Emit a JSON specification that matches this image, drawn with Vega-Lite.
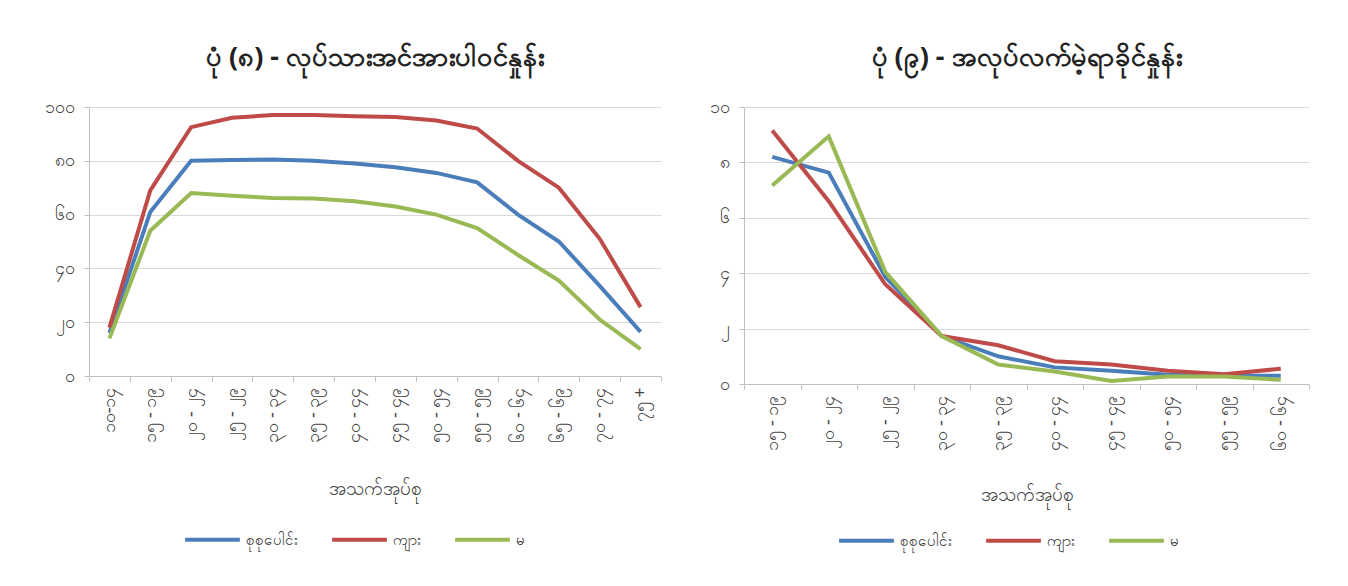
{
  "$schema": "https://vega.github.io/schema/vega-lite/v6.json",
  "background": "white",
  "padding": {"left": 44, "top": 44, "right": 38, "bottom": 5},
  "config": {
    "font": "Noto Sans",
    "view": {"stroke": null},
    "axis": {"labelColor": "#444", "titleColor": "#444", "labelFontSize": 18, "titleFontSize": 19, "titleFontWeight": "normal", "domainColor": "#bfbfbf", "tickColor": "#bfbfbf", "gridColor": "#d9d9d9"},
    "title": {"fontSize": 27, "fontWeight": "bold", "color": "#222"},
    "legend": {"labelFontSize": 15, "labelColor": "#333"}
  },
  "datasets": {
    "lfpr": [
      {"age": "၁၀-၁၄", "series": "စုစုပေါင်း", "value": 16}, {"age": "၁၀-၁၄", "series": "ကျား", "value": 18}, {"age": "၁၀-၁၄", "series": "မ", "value": 14},
      {"age": "၁၅ - ၁၉", "series": "စုစုပေါင်း", "value": 61}, {"age": "၁၅ - ၁၉", "series": "ကျား", "value": 69}, {"age": "၁၅ - ၁၉", "series": "မ", "value": 54},
      {"age": "၂၀ - ၂၄", "series": "စုစုပေါင်း", "value": 80}, {"age": "၂၀ - ၂၄", "series": "ကျား", "value": 92.5}, {"age": "၂၀ - ၂၄", "series": "မ", "value": 68},
      {"age": "၂၅ - ၂၉", "series": "စုစုပေါင်း", "value": 80.3}, {"age": "၂၅ - ၂၉", "series": "ကျား", "value": 96}, {"age": "၂၅ - ၂၉", "series": "မ", "value": 67},
      {"age": "၃၀ - ၃၄", "series": "စုစုပေါင်း", "value": 80.5}, {"age": "၃၀ - ၃၄", "series": "ကျား", "value": 97}, {"age": "၃၀ - ၃၄", "series": "မ", "value": 66.2},
      {"age": "၃၅ - ၃၉", "series": "စုစုပေါင်း", "value": 80}, {"age": "၃၅ - ၃၉", "series": "ကျား", "value": 97}, {"age": "၃၅ - ၃၉", "series": "မ", "value": 66},
      {"age": "၄၀ - ၄၄", "series": "စုစုပေါင်း", "value": 79}, {"age": "၄၀ - ၄၄", "series": "ကျား", "value": 96.6}, {"age": "၄၀ - ၄၄", "series": "မ", "value": 65},
      {"age": "၄၅ - ၄၉", "series": "စုစုပေါင်း", "value": 77.6}, {"age": "၄၅ - ၄၉", "series": "ကျား", "value": 96.3}, {"age": "၄၅ - ၄၉", "series": "မ", "value": 63},
      {"age": "၅၀ - ၅၄", "series": "စုစုပေါင်း", "value": 75.5}, {"age": "၅၀ - ၅၄", "series": "ကျား", "value": 95}, {"age": "၅၀ - ၅၄", "series": "မ", "value": 60},
      {"age": "၅၅ - ၅၉", "series": "စုစုပေါင်း", "value": 72}, {"age": "၅၅ - ၅၉", "series": "ကျား", "value": 92}, {"age": "၅၅ - ၅၉", "series": "မ", "value": 55},
      {"age": "၆၀ - ၆၄", "series": "စုစုပေါင်း", "value": 60}, {"age": "၆၀ - ၆၄", "series": "ကျား", "value": 80}, {"age": "၆၀ - ၆၄", "series": "မ", "value": 45},
      {"age": "၆၅ - ၆၉", "series": "စုစုပေါင်း", "value": 50}, {"age": "၆၅ - ၆၉", "series": "ကျား", "value": 70}, {"age": "၆၅ - ၆၉", "series": "မ", "value": 35.5},
      {"age": "၇၀ - ၇၄", "series": "စုစုပေါင်း", "value": 33.5}, {"age": "၇၀ - ၇၄", "series": "ကျား", "value": 51}, {"age": "၇၀ - ၇၄", "series": "မ", "value": 21},
      {"age": "၇၅ +", "series": "စုစုပေါင်း", "value": 16.4}, {"age": "၇၅ +", "series": "ကျား", "value": 25.6}, {"age": "၇၅ +", "series": "မ", "value": 10}
    ],
    "unemp": [
      {"age": "၁၅ - ၁၉", "series": "စုစုပေါင်း", "value": 8.2}, {"age": "၁၅ - ၁၉", "series": "ကျား", "value": 9.15}, {"age": "၁၅ - ၁၉", "series": "မ", "value": 7.17},
      {"age": "၂၀ - ၂၄", "series": "စုစုပေါင်း", "value": 7.63}, {"age": "၂၀ - ၂၄", "series": "ကျား", "value": 6.6}, {"age": "၂၀ - ၂၄", "series": "မ", "value": 8.94},
      {"age": "၂၅ - ၂၉", "series": "စုစုပေါင်း", "value": 3.87}, {"age": "၂၅ - ၂၉", "series": "ကျား", "value": 3.6}, {"age": "၂၅ - ၂၉", "series": "မ", "value": 4.05},
      {"age": "၃၀ - ၃၄", "series": "စုစုပေါင်း", "value": 1.73}, {"age": "၃၀ - ၃၄", "series": "ကျား", "value": 1.73}, {"age": "၃၀ - ၃၄", "series": "မ", "value": 1.73},
      {"age": "၃၅ - ၃၉", "series": "စုစုပေါင်း", "value": 1.0}, {"age": "၃၅ - ၃၉", "series": "ကျား", "value": 1.4}, {"age": "၃၅ - ၃၉", "series": "မ", "value": 0.7},
      {"age": "၄၀ - ၄၄", "series": "စုစုပေါင်း", "value": 0.6}, {"age": "၄၀ - ၄၄", "series": "ကျား", "value": 0.82}, {"age": "၄၀ - ၄၄", "series": "မ", "value": 0.45},
      {"age": "၄၅ - ၄၉", "series": "စုစုပေါင်း", "value": 0.48}, {"age": "၄၅ - ၄၉", "series": "ကျား", "value": 0.7}, {"age": "၄၅ - ၄၉", "series": "မ", "value": 0.11},
      {"age": "၅၀ - ၅၄", "series": "စုစုပေါင်း", "value": 0.33}, {"age": "၅၀ - ၅၄", "series": "ကျား", "value": 0.48}, {"age": "၅၀ - ၅၄", "series": "မ", "value": 0.27},
      {"age": "၅၅ - ၅၉", "series": "စုစုပေါင်း", "value": 0.3}, {"age": "၅၅ - ၅၉", "series": "ကျား", "value": 0.35}, {"age": "၅၅ - ၅၉", "series": "မ", "value": 0.27},
      {"age": "၆၀ - ၆၄", "series": "စုစုပေါင်း", "value": 0.3}, {"age": "၆၀ - ၆၄", "series": "ကျား", "value": 0.55}, {"age": "၆၀ - ၆၄", "series": "မ", "value": 0.15}
    ]
  },
  "hconcat": [
    {
      "data": {"name": "lfpr"},
      "title": {"text": "ပုံ (၈) - လုပ်သားအင်အားပါဝင်နှုန်း", "offset": 26},
      "width": 572,
      "height": 269,
      "mark": {"type": "line", "strokeWidth": 4},
      "encoding": {
        "x": {"field": "age", "type": "ordinal", "sort": null, "scale": {"type": "band", "paddingInner": 0, "paddingOuter": 0}, "bandPosition": 0.5,
              "axis": {"title": "အသက်အုပ်စု", "labelAngle": -90, "tickBand": "extent", "grid": false, "titlePadding": 37, "labelPadding": 6}},
        "y": {"field": "value", "type": "quantitative", "scale": {"domain": [0, 100]},
              "axis": {"title": null, "values": [0, 20, 40, 60, 80, 100], "labelPadding": 10,
                       "labelExpr": "datum.value==0?'၀':datum.value==20?'၂၀':datum.value==40?'၄၀':datum.value==60?'၆၀':datum.value==80?'၈၀':'၁၀၀'"}},
        "color": {"field": "series", "type": "nominal", "sort": null,
                  "scale": {"domain": ["စုစုပေါင်း", "ကျား", "မ"], "range": ["#4A7EBB", "#BE4B48", "#98B954"]},
                  "legend": {"title": null, "orient": "none", "legendX": 94, "legendY": 403, "direction": "horizontal", "symbolType": "stroke", "symbolSize": 3000, "symbolStrokeWidth": 4, "columnPadding": 26}}
      }
    },
    {
      "data": {"name": "unemp"},
      "title": {"text": "ပုံ (၉) - အလုပ်လက်မဲ့ရာခိုင်နှုန်း", "offset": 26},
      "width": 565,
      "height": 277,
      "mark": {"type": "line", "strokeWidth": 4},
      "encoding": {
        "x": {"field": "age", "type": "ordinal", "sort": null, "scale": {"type": "band", "paddingInner": 0, "paddingOuter": 0}, "bandPosition": 0.5,
              "axis": {"title": "အသက်အုပ်စု", "labelAngle": -90, "tickBand": "extent", "grid": false, "titlePadding": 35, "labelPadding": 6}},
        "y": {"field": "value", "type": "quantitative", "scale": {"domain": [0, 10]},
              "axis": {"title": null, "values": [0, 2, 4, 6, 8, 10], "labelPadding": 10,
                       "labelExpr": "datum.value==0?'၀':datum.value==2?'၂':datum.value==4?'၄':datum.value==6?'၆':datum.value==8?'၈':'၁၀'"}},
        "color": {"field": "series", "type": "nominal", "sort": null,
                  "scale": {"domain": ["စုစုပေါင်း", "ကျား", "မ"], "range": ["#4A7EBB", "#BE4B48", "#98B954"]},
                  "legend": {"title": null, "orient": "none", "legendX": 93, "legendY": 404, "direction": "horizontal", "symbolType": "stroke", "symbolSize": 3000, "symbolStrokeWidth": 4, "columnPadding": 26}}
      }
    }
  ],
  "spacing": 47,
  "resolve": {"scale": {"color": "independent"}, "legend": {"color": "independent"}}
}
